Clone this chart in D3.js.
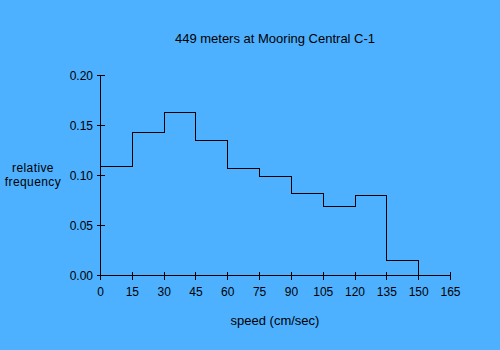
<!DOCTYPE html>
<html><head><meta charset="utf-8">
<script src="https://cdn.jsdelivr.net/npm/d3@7"></script>
<style>html,body{margin:0;padding:0;background:#4eb1ff;}svg{display:block;}</style>
</head><body>
<script>
const binStarts = [0, 15, 30, 45, 60, 75, 90, 105, 120, 135];
const binWidth = 15;
const frequencies = [0.109, 0.143, 0.163, 0.135, 0.107, 0.099, 0.082, 0.069, 0.080, 0.015];
const xTicks = [0, 15, 30, 45, 60, 75, 90, 105, 120, 135, 150, 165];
const yTicks = [0.00, 0.05, 0.10, 0.15, 0.20];
const yLabelLines = ["relative", "frequency"];

const W = 500, H = 350;
const svg = d3.select("body").append("svg").attr("width", W).attr("height", H);
svg.append("rect").attr("width", W).attr("height", H).attr("fill", "#4eb1ff");

const x = d3.scaleLinear().domain([0, 165]).range([100.5, 450.5]);
const y = d3.scaleLinear().domain([0, 0.2]).range([275.5, 75.5]);
const font = "Liberation Sans, Arial, Helvetica, sans-serif";

// axes
const g = svg.append("g").attr("stroke", "#000").attr("stroke-width", 1).attr("shape-rendering", "crispEdges").attr("fill", "none");
g.append("line").attr("x1", x(0)).attr("x2", x(165)).attr("y1", y(0)).attr("y2", y(0));
g.append("line").attr("x1", x(0)).attr("x2", x(0)).attr("y1", y(0)).attr("y2", y(0.2));
xTicks.forEach(t => g.append("line").attr("x1", x(t)).attr("x2", x(t)).attr("y1", y(0) - 4).attr("y2", y(0) + 4));
yTicks.forEach(t => g.append("line").attr("x1", x(0) - 4).attr("x2", x(0) + 4).attr("y1", y(t)).attr("y2", y(t)));

// tick labels
svg.selectAll(".xl").data(xTicks).enter().append("text")
  .attr("x", d => x(d)).attr("y", 296).attr("text-anchor", "middle")
  .attr("font-family", font).attr("font-size", 12).text(d => d);
svg.selectAll(".yl").data(yTicks).enter().append("text")
  .attr("x", 93).attr("y", d => y(d) + 4).attr("text-anchor", "end")
  .attr("font-family", font).attr("font-size", 12).text(d => d.toFixed(2));

// histogram step line
const pts = [];
binStarts.forEach((s, i) => { pts.push([s, frequencies[i]]); pts.push([s + binWidth, frequencies[i]]); });
pts.push([binStarts[binStarts.length - 1] + binWidth, 0]);
const line = d3.line().x(d => x(d[0])).y(d => y(d[1]));
svg.append("path").attr("d", line(pts)).attr("fill", "none").attr("stroke", "#000")
  .attr("stroke-width", 1).attr("shape-rendering", "crispEdges");

// titles
svg.append("text").attr("x", 275).attr("y", 43).attr("text-anchor", "middle")
  .attr("font-family", font).attr("font-size", 13).text("449 meters at Mooring Central C-1");
svg.append("text").attr("x", 275).attr("y", 325).attr("text-anchor", "middle")
  .attr("font-family", font).attr("font-size", 13).text("speed (cm/sec)");
svg.selectAll(".ylab").data(yLabelLines).enter().append("text")
  .attr("x", 33).attr("y", (d, i) => 172 + i * 14).attr("text-anchor", "middle")
  .attr("font-family", font).attr("font-size", 12).attr("letter-spacing", 0.4).text(d => d);
</script>
</body></html>
